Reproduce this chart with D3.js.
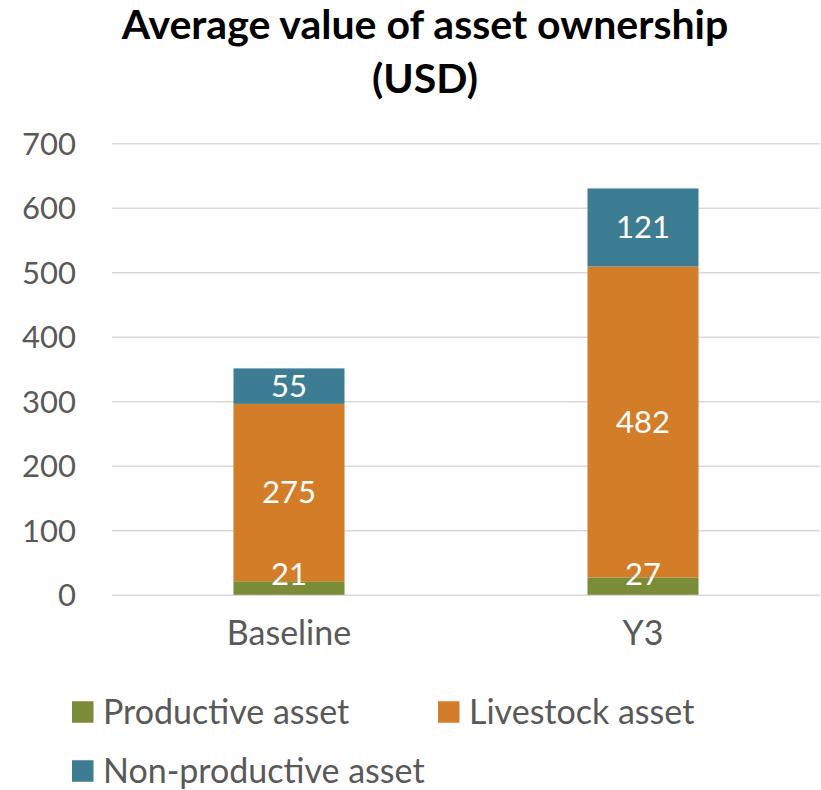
<!DOCTYPE html>
<html>
<head>
<meta charset="utf-8">
<script src="https://cdn.jsdelivr.net/npm/d3@7"></script>
<style>
  body { margin: 0; background: #fff; }
  text { font-family: Lato, "Noto Sans", sans-serif; }
</style>
</head>
<body>
<div class="graph"></div>
<script>
// chart data
const categories = ["Baseline", "Y3"];
const productive = [21, 27];
const livestock = [275, 482];
const nonProductive = [55, 121];
const seriesNames = ["Productive asset", "Livestock asset", "Non-productive asset"];
const seriesColors = ["#7a8c37", "#d37d29", "#3d7d93"];
const yTicks = [0, 100, 200, 300, 400, 500, 600, 700];

function drawChart() {
    const svg = d3.select(".graph").append("svg").attr("width", 821).attr("height", 790);

    const rows = categories.map((c, i) => ({
        cat: c,
        "Productive asset": productive[i],
        "Livestock asset": livestock[i],
        "Non-productive asset": nonProductive[i]
    }));
    const stacked = d3.stack().keys(seriesNames)(rows);

    const xScale = d3.scaleBand().domain(categories).range([112, 820]).padding(0);
    const yScale = d3.scaleLinear().domain([0, 700]).range([594.8, 143.3]);
    const barW = xScale.bandwidth() * 0.3136;

    // title
    svg.append("text")
        .attr("x", 425).attr("y", 39)
        .attr("text-anchor", "middle")
        .style("font-weight", "bold").style("font-size", "41px").style("fill", "#000")
        .text("Average value of asset ownership");
    svg.append("text")
        .attr("x", 425).attr("y", 93)
        .attr("text-anchor", "middle")
        .style("font-weight", "bold").style("font-size", "41px").style("fill", "#000")
        .text("(USD)");

    // gridlines + y labels
    const yaxis = d3.axisLeft(yScale).tickValues(yTicks).tickSize(-(820 - 112)).tickPadding(36);
    const gy = svg.append("g").attr("transform", "translate(112,0)").call(yaxis);
    gy.select(".domain").remove();
    gy.selectAll(".tick line").attr("stroke", "#d9d9d9").attr("stroke-width", 1.5);
    gy.selectAll(".tick text").style("font-size", "31px").style("fill", "#595959")
        .attr("font-family", null).attr("dy", "0.35em");

    // x labels
    const xaxis = d3.axisBottom(xScale).tickSize(0).tickPadding(26);
    const gx = svg.append("g").attr("transform", "translate(0," + yScale(0) + ")").call(xaxis);
    gx.select(".domain").remove();
    gx.selectAll(".tick text").style("font-size", "34px").style("fill", "#595959")
        .attr("font-family", null).attr("dy", "0.71em");

    // bars
    const layers = svg.append("g").selectAll("g").data(stacked).enter().append("g")
        .attr("fill", (d, i) => seriesColors[i]);
    layers.selectAll("rect").data(d => d).enter().append("rect")
        .attr("x", d => xScale(d.data.cat) + xScale.bandwidth() / 2 - barW / 2)
        .attr("width", barW)
        .attr("y", d => yScale(d[1]))
        .attr("height", d => yScale(d[0]) - yScale(d[1]));

    // data labels (drawn after all bars so nothing covers them)
    const labelData = stacked.flatMap(s => s.map(d => d));
    svg.append("g").selectAll("text").data(labelData).enter().append("text")
        .attr("x", d => xScale(d.data.cat) + xScale.bandwidth() / 2)
        .attr("y", d => Math.min((yScale(d[0]) + yScale(d[1])) / 2, yScale(0) - 21))
        .attr("dy", "0.35em")
        .attr("text-anchor", "middle")
        .style("font-size", "31px").style("fill", "#fff")
        .text(d => d[1] - d[0]);

    // legend
    const legendPos = [[72, 712], [438, 712], [72, 771]];
    const lg = svg.append("g").selectAll("g").data(seriesNames).enter().append("g")
        .attr("transform", (d, i) => "translate(" + legendPos[i][0] + "," + legendPos[i][1] + ")");
    lg.append("rect").attr("x", 0).attr("y", -10.75).attr("width", 21.5).attr("height", 21.5)
        .attr("fill", (d, i) => seriesColors[i]);
    lg.append("text").attr("x", 31).attr("dy", "0.35em")
        .style("font-size", "34px").style("fill", "#595959")
        .text(d => d);
}

drawChart();
</script>
</body>
</html>
